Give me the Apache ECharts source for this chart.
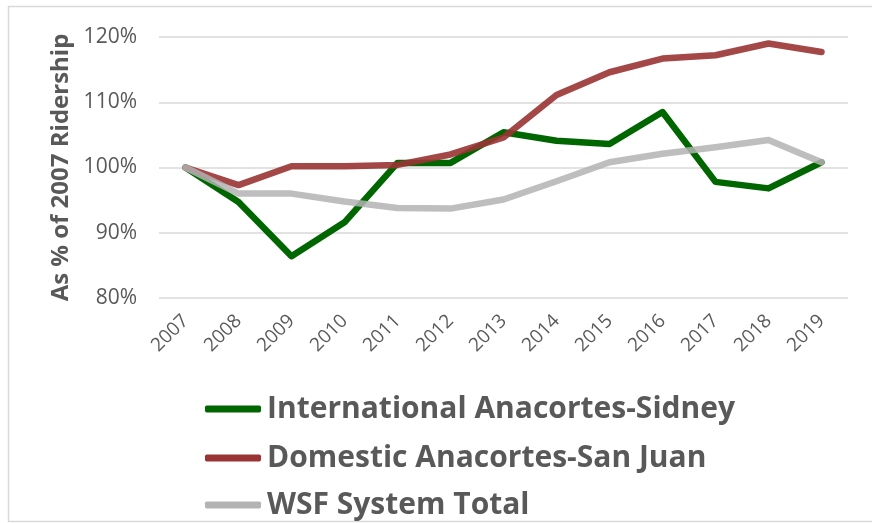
<!DOCTYPE html>
<html><head><meta charset="utf-8">
<script src="https://cdn.jsdelivr.net/npm/echarts@6/dist/echarts.min.js"></script>
<style>html,body{margin:0;padding:0;background:#fff}#c{width:872px;height:523px}</style>
</head><body><div id="c"></div>
<script>
const years = ['2007','2008','2009','2010','2011','2012','2013','2014','2015','2016','2017','2018','2019'];
const international = [100, 94.7, 86.4, 91.6, 100.7, 100.7, 105.4, 104.1, 103.6, 108.5, 97.8, 96.8, 100.8];
const domestic = [100, 97.3, 100.2, 100.2, 100.4, 102.0, 104.6, 111.1, 114.6, 116.7, 117.2, 119.0, 117.7];
const wsfTotal = [100, 96.0, 96.0, 94.8, 93.8, 93.7, 95.1, 97.9, 100.8, 102.1, 103.1, 104.2, 100.8];
const seriesNames = ['International Anacortes-Sidney', 'Domestic Anacortes-San Juan', 'WSF System Total'];
const yAxisTitle = 'As % of 2007 Ridership';

const chart = echarts.init(document.getElementById('c'));
const font = '"Open Sans", "Liberation Sans", sans-serif';
function mk(name, data, color, opacity, z) {
  return {
    name, type: 'line', data, symbol: 'none', z,
    lineStyle: { color, width: 6.5, opacity, cap: 'round', join: 'round' },
    itemStyle: { color }
  };
}
const legendTops = [394, 443, 490];
chart.setOption({
  animation: false,
  backgroundColor: '#fff',
  graphic: [{
    type: 'rect', shape: { x: 8.5, y: 6.5, width: 880, height: 515 },
    style: { fill: 'none', stroke: '#d9d9d9', lineWidth: 1.5 }, silent: true
  }],
  grid: { left: 159, right: 24, top: 37, bottom: 225 },
  xAxis: {
    type: 'category', data: years, boundaryGap: true,
    axisLine: { show: false }, axisTick: { show: false },
    axisLabel: { rotate: 45, color: '#595959', fontSize: 19, fontFamily: font, margin: 20 }
  },
  yAxis: {
    type: 'value', min: 80, max: 120, interval: 10,
    name: yAxisTitle, nameLocation: 'middle', nameGap: 78,
    nameTextStyle: { color: '#595959', fontSize: 24, fontWeight: 'bold', fontFamily: font },
    axisLine: { show: false }, axisTick: { show: false },
    axisLabel: { color: '#595959', fontSize: 21, fontFamily: font, margin: 22, formatter: v => v + '%' },
    splitLine: { lineStyle: { color: '#d9d9d9', width: 1.5 } }
  },
  legend: seriesNames.map((n, i) => ({
    orient: 'vertical', left: 205, top: legendTops[i], padding: 0,
    itemWidth: 56, itemHeight: 7, icon: 'roundRect', itemGap: 0,
    textStyle: { color: '#595959', fontSize: 30, fontWeight: 'bold', fontFamily: font, padding: [0, 0, 0, 1], lineHeight: 30 },
    data: [n]
  })),
  series: [
    mk(seriesNames[0], international, '#006600', 1, 2),
    mk(seriesNames[1], domestic, '#9a3333', 0.9, 3),
    mk(seriesNames[2], wsfTotal, '#b3b3b3', 0.85, 4)
  ]
});
</script></body></html>
